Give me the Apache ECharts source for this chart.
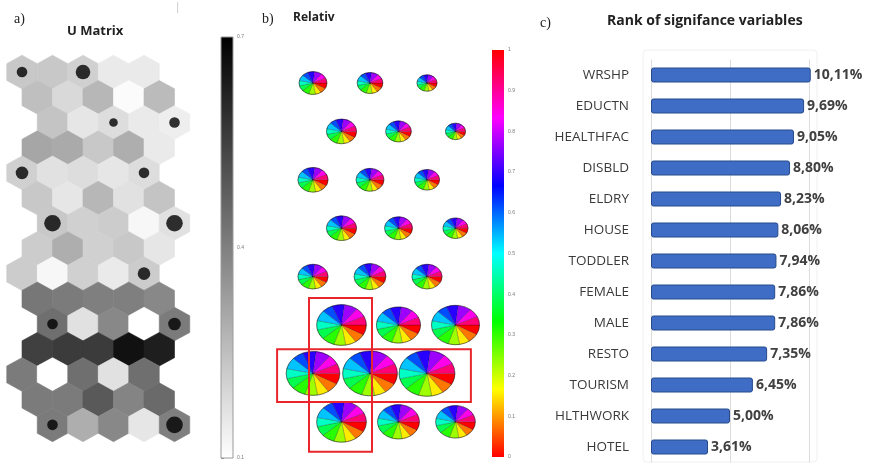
<!DOCTYPE html>
<html><head><meta charset="utf-8">
<script src="https://cdn.jsdelivr.net/npm/echarts@6/dist/echarts.min.js"></script>
<style>html,body{margin:0;padding:0;background:#fff}#c{width:870px;height:464px}</style>
</head><body><div id="c"></div>
<script>
// ---------- Panel a: U-matrix (15 rows x 5 columns), values 0.1..0.7 ----------
const uRows = [
  [0.23, 0.23, 0.21, 0.15, 0.15],
  [0.25, 0.19, 0.27, 0.11, 0.26],
  [0.24, 0.16, 0.18, 0.15, 0.14],
  [0.31, 0.30, 0.23, 0.29, 0.15],
  [0.21, 0.17, 0.18, 0.16, 0.18],
  [0.23, 0.16, 0.27, 0.17, 0.24],
  [0.23, 0.21, 0.22, 0.12, 0.17],
  [0.22, 0.29, 0.21, 0.23, 0.16],
  [0.22, 0.12, 0.21, 0.15, 0.22],
  [0.42, 0.41, 0.40, 0.40, 0.38],
  [0.44, 0.17, 0.38, 0.10, 0.41],
  [0.55, 0.56, 0.56, 0.66, 0.63],
  [0.41, 0.10, 0.44, 0.17, 0.44],
  [0.41, 0.41, 0.49, 0.39, 0.45],
  [0.41, 0.29, 0.38, 0.16, 0.40]
];
// hit counts of the 8 x 3 map units
const hits = [
  [2, 4, 0],
  [0, 1, 2],
  [3, 0, 2],
  [5, 0, 5],
  [0, 0, 3],
  [2, 0, 3],
  [0, 0, 0],
  [2, 0, 5]
];
const uTicks = [0.1, 0.4, 0.7];

// ---------- Panel b: relative pie planes (8 rows x 3 columns) ----------
const pieSize = [
  [0.50, 0.46, 0.36],
  [0.54, 0.46, 0.36],
  [0.54, 0.50, 0.45],
  [0.54, 0.50, 0.45],
  [0.54, 0.57, 0.54],
  [0.89, 0.79, 0.86],
  [0.96, 0.98, 1.00],
  [0.89, 0.75, 0.71]
];
const sliceWeights = [1.05, 0.95, 0.9, 1.0, 1.1, 1.0, 0.95, 1.1, 0.9, 1.05, 1.15, 0.95, 0.9];
const highlightBoxes = [[-0.07, 4.44, 1.035, 7.62], [-0.63, 5.5, 2.77, 6.59]];

// ---------- Panel c: rank of significance ----------
const variables = ['WRSHP','EDUCTN','HEALTHFAC','DISBLD','ELDRY','HOUSE','TODDLER','FEMALE','MALE','RESTO','TOURISM','HLTHWORK','HOTEL'];
const significance = [10.11, 9.69, 9.05, 8.80, 8.23, 8.06, 7.94, 7.86, 7.86, 7.35, 6.45, 5.00, 3.61];

// ---------------------------------------------------------------
const rowOffset = [0, 0.5, 1, 0.5];
const hexData = [];
uRows.forEach((row, r) => row.forEach((v, c) => hexData.push([c + rowOffset[r % 4], r, v])));
const dotData = [];
hits.forEach((row, i) => row.forEach((h, j) => {
  if (h > 0) { const r = 2 * i; dotData.push([2 * j + rowOffset[r % 4], r, h]); }
}));
const pieData = [];
pieSize.forEach((row, i) => row.forEach((s, j) => pieData.push([j + (i % 2 ? 0.5 : 0), i, s])));

function hsv(h) {
  const i = Math.floor(h * 6), f = h * 6 - i, q = 1 - f;
  const m = [[1, f, 0], [q, 1, 0], [0, 1, f], [0, q, 1], [f, 0, 1], [1, 0, q]][i % 6];
  return 'rgb(' + m.map(x => Math.round(x * 255)).join(',') + ')';
}

const chart = echarts.init(document.getElementById('c'), null, {renderer: 'canvas'});
const hide = {show: false};
const sans = '"Open Sans", "Liberation Sans", sans-serif';

const option = {
  backgroundColor: '#fff',
  animation: false,
  grid: [
    {left: 6.75, top: 54.4, width: 183, height: 388.1},     // hex
    {left: 221, top: 37, width: 12, height: 421},           // gray bar
    {left: 284.5, top: 58.8, width: 199.5, height: 387.2},  // pies
    {left: 492, top: 50, width: 12, height: 407},           // hsv bar
    {left: 651, top: 59.5, width: 158, height: 403}         // bars
  ],
  xAxis: [
    {gridIndex: 0, type: 'value', min: -0.5, max: 5.5, show: false},
    {gridIndex: 1, type: 'value', min: 0, max: 1, show: false},
    {gridIndex: 2, type: 'value', min: -0.5, max: 3, show: false},
    {gridIndex: 3, type: 'value', min: 0, max: 1, show: false},
    {gridIndex: 4, type: 'value', min: 0, max: 10, interval: 5,
      axisLabel: hide, axisLine: hide, axisTick: hide,
      splitLine: {show: true, lineStyle: {color: '#dcdcdc', width: 1}}}
  ],
  yAxis: [
    {gridIndex: 0, type: 'value', inverse: true, min: -0.7, max: 14.7, show: false},
    {gridIndex: 1, type: 'value', min: 0.1, max: 0.7, position: 'right',
      axisLine: hide, splitLine: hide,
      axisTick: {show: true, customValues: uTicks, length: 3, lineStyle: {color: '#888'}},
      axisLabel: {customValues: uTicks, fontSize: 5, color: '#777', margin: 4,
        formatter: v => v.toFixed(1)}},
    {gridIndex: 2, type: 'value', inverse: true, min: -0.5, max: 7.5, show: false},
    {gridIndex: 3, type: 'value', min: 0, max: 1, interval: 0.1, position: 'right',
      axisLine: hide, splitLine: hide, axisTick: hide,
      axisLabel: {fontSize: 5, color: '#777', margin: 4,
        formatter: v => (v === 0 ? '0' : v === 1 ? '1' : v.toFixed(1))}},
    {gridIndex: 4, type: 'category', inverse: true, data: variables,
      axisLine: hide, axisTick: hide,
      axisLabel: {fontSize: 13.5, color: '#3a3a3a', fontFamily: sans, margin: 22}}
  ],
  visualMap: [{
    show: false, type: 'continuous', seriesIndex: 0, dimension: 2,
    min: 0.1, max: 0.7, inRange: {color: ['#ffffff', '#000000']}
  }],
  series: [
    { // U-matrix hexagons
      type: 'custom', xAxisIndex: 0, yAxisIndex: 0, data: hexData,
      renderItem(params, api) {
        const c = api.coord([api.value(0), api.value(1)]);
        const s = api.size([1, 1]);
        const w = Math.abs(s[0]) / 2, R = Math.abs(s[1]) / 1.5;
        const pts = [[0, -R], [w, -R / 2], [w, R / 2], [0, R], [-w, R / 2], [-w, -R / 2]]
          .map(p => [c[0] + p[0], c[1] + p[1]]);
        const col = api.visual('color');
        return {type: 'polygon', shape: {points: pts}, style: {fill: col, stroke: col, lineWidth: 0.6}};
      }
    },
    { // hit markers
      type: 'scatter', xAxisIndex: 0, yAxisIndex: 0, data: dotData,
      symbol: 'circle', symbolSize: v => 2 * (3.3 + v[2]),
      itemStyle: {color: '#000'}
    },
    { // gray colour bar
      type: 'custom', xAxisIndex: 1, yAxisIndex: 1, data: [[0, 0.1, 1, 0.7]],
      renderItem(params, api) {
        const p0 = api.coord([api.value(0), api.value(1)]);
        const p1 = api.coord([api.value(2), api.value(3)]);
        return {type: 'rect',
          shape: {x: p0[0], y: p1[1], width: p1[0] - p0[0], height: p0[1] - p1[1]},
          style: {fill: new echarts.graphic.LinearGradient(0, 1, 0, 0,
            [{offset: 0, color: '#ffffff'}, {offset: 1, color: '#000000'}]),
            stroke: '#9a9a9a', lineWidth: 1}};
      }
    },
    { // pies
      type: 'custom', xAxisIndex: 2, yAxisIndex: 2, data: pieData,
      renderItem(params, api) {
        const c = api.coord([api.value(0), api.value(1)]);
        const unit = Math.abs(api.size([1, 0])[0]);
        const r = api.value(2) * unit * 0.49;
        const total = sliceWeights.reduce((a, b) => a + b, 0);
        let acc = 0;
        const children = sliceWeights.map((wgt, k) => {
          const a0 = acc / total * Math.PI * 2;
          acc += wgt;
          const a1 = acc / total * Math.PI * 2;
          return {type: 'sector',
            shape: {cx: 0, cy: 0, r: r, r0: 0, startAngle: a0, endAngle: a1, clockwise: true},
            style: {fill: hsv(k / sliceWeights.length), stroke: 'rgba(0,0,0,0.45)', lineWidth: 0.5}};
        });
        children.push({type: 'circle', shape: {cx: 0, cy: 0, r: r},
          style: {fill: 'none', stroke: 'rgba(0,0,0,0.55)', lineWidth: 0.8}});
        return {type: 'group', x: c[0], y: c[1], scaleY: 0.82, children};
      }
    },
    { // highlight boxes
      type: 'custom', xAxisIndex: 2, yAxisIndex: 2, data: highlightBoxes,
      renderItem(params, api) {
        const p0 = api.coord([api.value(0), api.value(1)]);
        const p1 = api.coord([api.value(2), api.value(3)]);
        return {type: 'rect',
          shape: {x: p0[0], y: p0[1], width: p1[0] - p0[0], height: p1[1] - p0[1]},
          style: {fill: 'none', stroke: '#e8262b', lineWidth: 2}};
      }
    },
    { // hsv colour bar
      type: 'custom', xAxisIndex: 3, yAxisIndex: 3, data: [[0, 0, 1, 1]],
      renderItem(params, api) {
        const p0 = api.coord([api.value(0), api.value(1)]);
        const p1 = api.coord([api.value(2), api.value(3)]);
        const stops = [0, 1, 2, 3, 4, 5, 6].map(i => ({offset: i / 6, color: hsv((i % 6) / 6)}));
        return {type: 'rect',
          shape: {x: p0[0], y: p1[1], width: p1[0] - p0[0], height: p0[1] - p1[1]},
          style: {fill: new echarts.graphic.LinearGradient(0, 1, 0, 0, stops)}};
      }
    },
    { // significance bars
      type: 'bar', xAxisIndex: 4, yAxisIndex: 4, data: significance,
      barWidth: 15, clip: false,
      itemStyle: {color: '#3f6cc4', borderColor: '#264a8c', borderWidth: 1, borderRadius: 2},
      label: {show: true, position: 'right', distance: 3, fontSize: 14, fontWeight: 'bold',
        fontFamily: sans, color: '#404040',
        formatter: p => p.value.toFixed(2).replace('.', ',') + '%'}
    }
  ],
  graphic: [
    {type: 'rect', z: -1, shape: {x: 643, y: 50, width: 174, height: 412, r: 4},
      style: {fill: 'none', stroke: '#f0f0f0', lineWidth: 1}},
    {type: 'text', left: 14, top: 12, style: {text: 'a)', font: '14px "Liberation Serif", serif', fill: '#222'}},
    {type: 'text', left: 67, top: 25, style: {text: 'U Matrix', font: 'bold 13px ' + sans, fill: '#222'}},
    {type: 'text', left: 175, top: 2, style: {text: '|', font: '10px ' + sans, fill: '#bbb'}},
    {type: 'text', left: 262, top: 12, style: {text: 'b)', font: '14px "Liberation Serif", serif', fill: '#222'}},
    {type: 'text', left: 293, top: 12, style: {text: 'Relativ', font: 'bold 12px ' + sans, fill: '#222'}},
    {type: 'text', left: 540, top: 16, style: {text: 'c)', font: '14px "Liberation Serif", serif', fill: '#222'}},
    {type: 'text', left: 607, top: 14, style: {text: 'Rank of signifance variables', font: 'bold 14px ' + sans, fill: '#222'}}
  ]
};
chart.setOption(option);
</script>
</body></html>
